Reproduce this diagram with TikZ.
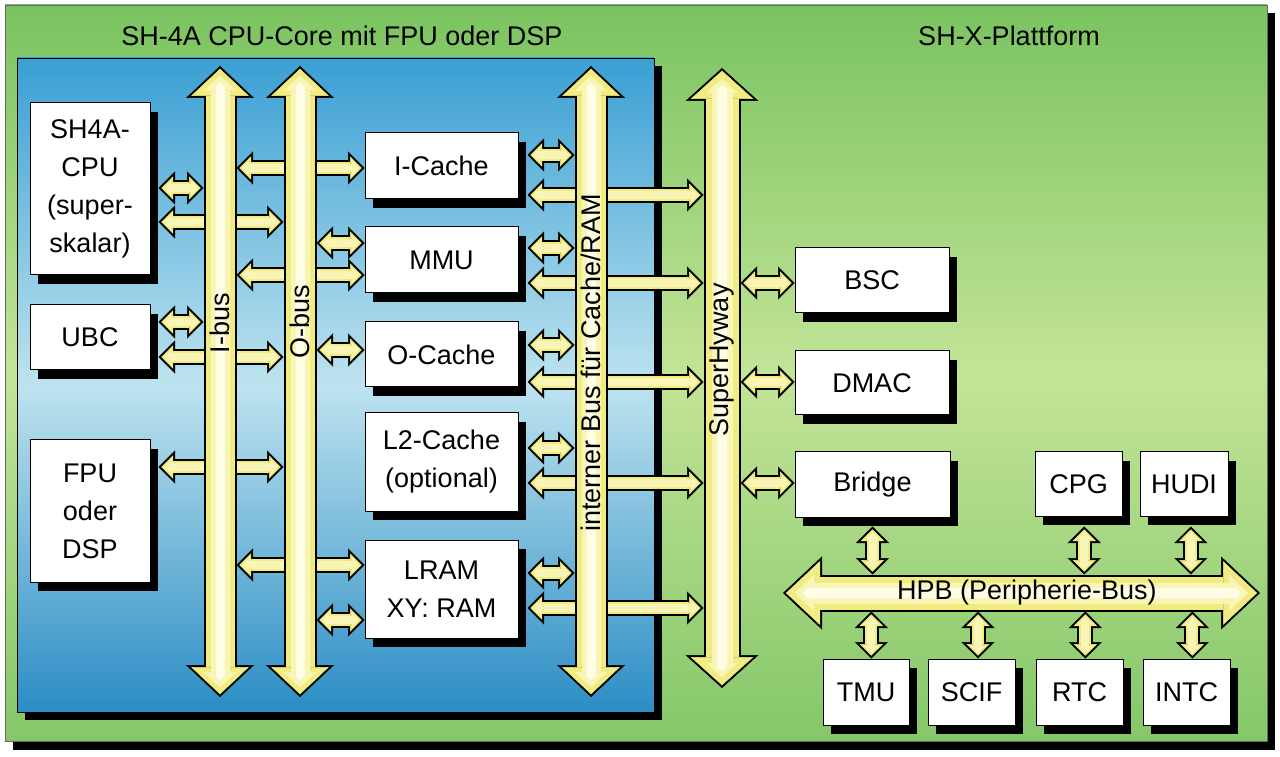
\documentclass[tikz,border=0pt]{standalone}
\usepackage{fontspec}
\setmainfont{Liberation Sans}
\usetikzlibrary{arrows.meta,shadows}

\definecolor{busbase}{HTML}{F1EC82}
\definecolor{busmid}{HTML}{F8F5B6}
\definecolor{bushi}{HTML}{FEFDE6}
\definecolor{greentop}{HTML}{7AC360}
\definecolor{greenmid}{HTML}{C3E497}
\definecolor{greenbot}{HTML}{84C769}
\definecolor{bluetop}{HTML}{3A9FD3}
\definecolor{bluemid}{HTML}{BEE3EF}
\definecolor{bluebot}{HTML}{2B8DC4}

\tikzset{
  box/.style={draw=black, line width=1pt, fill=white, align=center, inner sep=0pt,
    font=\fontsize{27}{38}\selectfont,
    drop shadow={shadow xshift=8pt, shadow yshift=-9pt, fill=black, opacity=1}},
  txt/.style={font=\fontsize{27}{32}\selectfont, inner sep=0pt},
  % colour, shaft width, head width, head length, pull-back
  fat/.style n args={5}{draw=#1, line width=#2pt,
    >={Triangle[width=#3pt,length=#4pt,line width=0.5pt]}, <->,
    shorten <=#5pt, shorten >=#5pt}
}

% all short bus connections
\newcommand\linkrows{
  \draw (leftS |- 0,568) -- (ibusL |- 0,568);
  \draw (leftS |- 0,534) -- (obusL |- 0,534);
  \draw (ibusR |- 0,588) -- (icache.west |- 0,588);
  \draw (obusR |- 0,513) -- (mmu.west |- 0,513);
  \draw (ibusR |- 0,481) -- (mmu.west |- 0,481);
  \draw (leftS |- 0,434) -- (ibusL |- 0,434);
  \draw (leftS |- 0,399) -- (obusL |- 0,399);
  \draw (obusR |- 0,406) -- (ocache.west |- 0,406);
  \draw (leftS |- 0,289) -- (obusL |- 0,289);
  \draw (ibusR |- 0,191) -- (lram.west |- 0,191);
  \draw (obusR |- 0,136) -- (lram.west |- 0,136);
  \draw (cacheS |- 0,601) -- (ibL |- 0,601);
  \draw (cacheS |- 0,561) -- (shL |- 0,561);
  \draw (cacheS |- 0,508) -- (ibL |- 0,508);
  \draw (cacheS |- 0,473) -- (shL |- 0,473);
  \draw (cacheS |- 0,411) -- (ibL |- 0,411);
  \draw (cacheS |- 0,374) -- (shL |- 0,374);
  \draw (cacheS |- 0,308) -- (ibL |- 0,308);
  \draw (cacheS |- 0,273) -- (shL |- 0,273);
  \draw (cacheS |- 0,183) -- (ibL |- 0,183);
  \draw (cacheS |- 0,148) -- (shL |- 0,148);
  \draw (shR |- 0,473) -- (bsc.west |- 0,473);
  \draw (shR |- 0,374) -- (dmac.west |- 0,374);
  \draw (shR |- 0,273) -- (bridge.west |- 0,273);
  \draw (bridge.south |- rowS) -- (bridge.south |- hpbT);
  \draw (cpg.-80 |- rowS) -- (cpg.-80 |- hpbT);
  \draw (hudi.-78 |- rowS) -- (hudi.-78 |- hpbT);
  \draw (tmu.81) -- (tmu.81 |- hpbB);
  \draw (scif.79) -- (scif.79 |- hpbB);
  \draw (rtc.80) -- (rtc.80 |- hpbB);
  \draw (intc.80) -- (intc.80 |- hpbB);
}

\begin{document}
\begin{tikzpicture}[x=1pt,y=1pt]
  \useasboundingbox (0,0) rectangle (1280,756);

  % platform and core panels
  \fill[black] (13,6) rectangle (1275,743);
  \draw[black!60, line width=0.8pt, top color=greentop, bottom color=greenbot,
    middle color=greenmid] (5,15) rectangle (1267,751);
  \fill[black] (25,36) rectangle (662,690);
  \draw[black, line width=0.8pt, top color=bluetop, bottom color=bluebot,
    middle color=bluemid] (17,44) rectangle (654,698);

  \node[txt] (coretitle) at (342,720) {SH-4A CPU-Core mit FPU oder DSP};
  \node[txt] (sxtitle) at (1009,720) {SH-X-Plattform};

  % blocks
  \node[box, minimum width=120, minimum height=172] (cpu) at (90,567) {SH4A-\\CPU\\(super-\\skalar)};
  \node[box, minimum width=120, minimum height=65] (ubc) at (90,418.5) {UBC};
  \node[box, minimum width=120, minimum height=142] (fpu) at (90,245) {FPU\\oder\\DSP};
  \node[box, minimum width=153, minimum height=66] (icache) at (441.5,590) {I-Cache};
  \node[box, minimum width=153, minimum height=66] (mmu) at (441.5,496) {MMU};
  \node[box, minimum width=153, minimum height=65] (ocache) at (441.5,401.5) {O-Cache};
  \node[box, minimum width=153, minimum height=98] (l2) at (441.5,294) {L2-Cache\\(optional)};
  \node[box, minimum width=153, minimum height=98] (lram) at (441.5,167) {LRAM\\XY: RAM};
  \node[box, minimum width=154, minimum height=65] (bsc) at (872,475.5) {BSC};
  \node[box, minimum width=154, minimum height=64] (dmac) at (872,373) {DMAC};
  \node[box, minimum width=155, minimum height=65] (bridge) at (872.5,271.5) {Bridge};
  \node[box, minimum width=87, minimum height=64] (cpg) at (1078.5,272) {CPG};
  \node[box, minimum width=88, minimum height=64] (hudi) at (1184,272) {HUDI};
  \node[box, minimum width=86, minimum height=66] (tmu) at (866,64) {TMU};
  \node[box, minimum width=87, minimum height=66] (scif) at (971.5,64) {SCIF};
  \node[box, minimum width=87, minimum height=66] (rtc) at (1079.5,64) {RTC};
  \node[box, minimum width=87, minimum height=66] (intc) at (1186.5,64) {INTC};

  % bus ends and edges
  \coordinate (ibus-s) at (220,59);   \coordinate (ibus-n) at (220,690);
  \coordinate (obus-s) at (300,59);   \coordinate (obus-n) at (300,690);
  \coordinate (ib-s) at (591,59);     \coordinate (ib-n) at (591,690);
  \coordinate (sh-s) at (722,68);     \coordinate (sh-n) at (722,688);
  \coordinate (hpb-w) at (783,163);   \coordinate (hpb-e) at (1260,163);
  \coordinate (ibusL) at (203.5,0);   \coordinate (ibusR) at (236.5,0);
  \coordinate (obusL) at (283.5,0);   \coordinate (obusR) at (316.5,0);
  \coordinate (ibL) at (574.5,0);     \coordinate (shL) at (703.5,0);
  \coordinate (shR) at (740.5,0);
  \coordinate (hpbT) at (0,181.5);    \coordinate (hpbB) at (0,144.5);
  \coordinate (leftS) at ([xshift=8pt]cpu.east);
  \coordinate (cacheS) at ([xshift=9pt]icache.east);
  \coordinate (rowS) at ([yshift=-9pt]bridge.south);

  % short connections: outline, then yellow layers
  \foreach \c/\w/\tw/\tl/\s in {black/16/33/16.5/0, busbase/12/23.3/11.67/2.83,
      busmid/8/13.7/6.84/5.66} {
    \begin{scope}[fat={\c}{\w}{\tw}{\tl}{\s}]
      \linkrows
    \end{scope}
  }

  % buses
  \foreach \b in {ibus, obus, ib} {
    \foreach \c/\w/\tw/\tl/\s in {black/33/68/32/0, busbase/29/57.9/27.25/2.75,
        busmid/19/32.7/15.39/9.61, bushi/9/10/4.3/16.5}
      \draw[fat={\c}{\w}{\tw}{\tl}{\s}] (\b-s) -- (\b-n);
  }
  \foreach \c/\w/\tw/\tl/\s in {black/37/73/33/0, busbase/33/62.6/28.3/2.7,
      busmid/21/31.4/14.2/10.78, bushi/10/8/3.2/17.3}
    \draw[fat={\c}{\w}{\tw}{\tl}{\s}] (sh-s) -- (sh-n);
  \foreach \c/\w/\tw/\tl/\s in {black/37/73/39/0, busbase/33/63.8/34.07/2.93,
      busmid/21/36.1/19.3/11.7, bushi/10/13/7/19}
    \draw[fat={\c}{\w}{\tw}{\tl}{\s}] (hpb-w) -- (hpb-e);

  \node[txt, rotate=90] (ibuslbl) at (220,433) {I-bus};
  \node[txt, rotate=90] (obuslbl) at (300,434) {O-bus};
  \node[txt, rotate=90] (iblbl) at (591,393) {interner Bus für Cache/RAM};
  \node[txt, rotate=90] (shlbl) at (722,396) {SuperHyway};
  \node[txt] (hpblbl) at (1027,163) {HPB (Peripherie-Bus)};
\end{tikzpicture}
\end{document}
